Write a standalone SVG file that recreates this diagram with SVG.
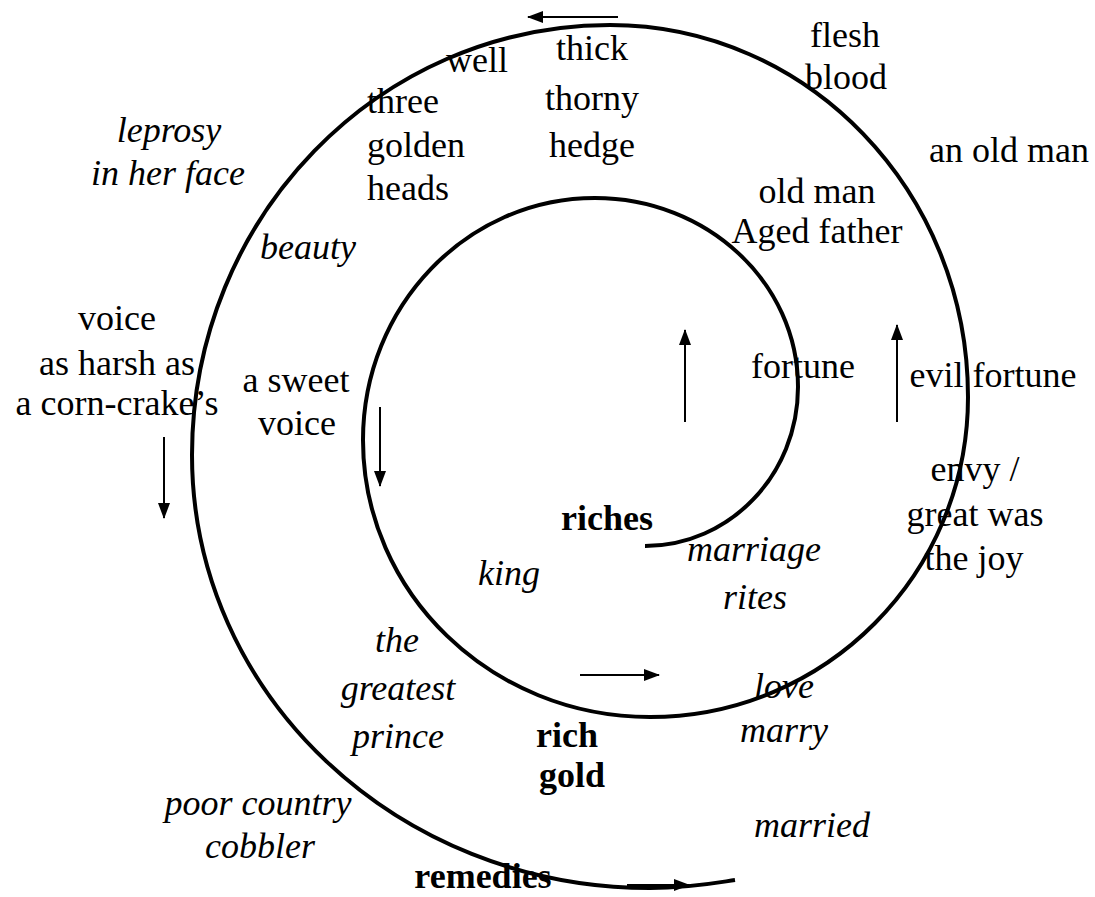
<svg xmlns="http://www.w3.org/2000/svg" width="1095" height="897" viewBox="0 0 1095 897">
<style>
text{font-family:"Liberation Serif","Times New Roman",serif;font-size:36px;fill:#000;text-anchor:middle}
.i{font-style:italic}
.b{font-weight:bold}
.l{text-anchor:start}
.spiral{fill:none;stroke:#000;stroke-width:4;stroke-linecap:butt}
.arr{fill:none;stroke:#000;stroke-width:2;marker-end:url(#ah)}
</style>
<defs>
<marker id="ah" markerUnits="userSpaceOnUse" markerWidth="16" markerHeight="12" refX="15" refY="6" orient="auto">
<path d="M0,0 L16,6 L0,12 z" fill="#000"/>
</marker>
</defs>
<rect width="1095" height="897" fill="#fff"/>
<g id="connectors">
<path class="spiral" d="M645,546 C729.5,546 798,474.8 798,387 C798,282.6 707.1,198 595,198 C466.9,198 363,306.3 363,440 C363,593 491.5,717 650,717 C825.6,717 968,573.7 968,397 C968,191.5 807.7,25 610,25 C379.1,25 192,217.5 192,455 C192,694 397,888 650,888 C690,888 715,883 735,880"/>
<line class="arr" x1="618" y1="17" x2="528" y2="17"/>
<line class="arr" x1="685" y1="422" x2="685" y2="330"/>
<line class="arr" x1="897" y1="422" x2="897" y2="325"/>
<line class="arr" x1="164" y1="437" x2="164" y2="518"/>
<line class="arr" x1="380" y1="407" x2="380" y2="486"/>
<line class="arr" x1="580" y1="675" x2="659" y2="675"/>
<line class="arr" x1="627" y1="885" x2="689" y2="885"/>
</g>
<g id="n-thick"><text x="592" y="60">thick</text><text x="592" y="110">thorny</text><text x="592" y="157">hedge</text></g>
<g id="n-well"><text x="477" y="72">well</text></g>
<g id="n-three"><text class="l" x="367" y="113">three</text><text class="l" x="367" y="157">golden</text><text class="l" x="367" y="200">heads</text></g>
<g id="n-flesh"><text x="845" y="47">flesh</text><text x="846" y="89">blood</text></g>
<g id="n-anoldman"><text x="1009" y="162">an old man</text></g>
<g id="n-oldman"><text x="817" y="203">old man</text><text x="817" y="243">Aged father</text></g>
<g id="n-leprosy"><text class="i" x="169" y="142">leprosy</text><text class="i" x="168" y="185">in her face</text></g>
<g id="n-beauty"><text class="i" x="308" y="259">beauty</text></g>
<g id="n-voice"><text x="117" y="330">voice</text><text x="117" y="375">as harsh as</text><text x="117" y="415">a corn-crake’s</text></g>
<g id="n-sweet"><text x="296" y="392">a sweet</text><text x="297" y="435">voice</text></g>
<g id="n-fortune"><text x="803" y="378">fortune</text></g>
<g id="n-evilfortune"><text x="993" y="387">evil fortune</text></g>
<g id="n-envy"><text x="975" y="481">envy /</text><text x="975" y="526">great was</text><text x="974" y="570">the joy</text></g>
<g id="n-riches"><text class="b" x="607" y="530">riches</text></g>
<g id="n-marriage"><text class="i" x="754" y="561">marriage</text><text class="i" x="755" y="609">rites</text></g>
<g id="n-king"><text class="i" x="509" y="585">king</text></g>
<g id="n-prince"><text class="i" x="397" y="652">the</text><text class="i" x="398" y="700">greatest</text><text class="i" x="398" y="748">prince</text></g>
<g id="n-love"><text class="i" x="784" y="698">love</text><text class="i" x="784" y="742">marry</text></g>
<g id="n-rich"><text class="b" x="567" y="747">rich</text><text class="b" x="572" y="787">gold</text></g>
<g id="n-cobbler"><text class="i" x="258" y="815">poor country</text><text class="i" x="260" y="858">cobbler</text></g>
<g id="n-married"><text class="i" x="812" y="837">married</text></g>
<g id="n-remedies"><text class="b" x="483" y="888">remedies</text></g>
</svg>
